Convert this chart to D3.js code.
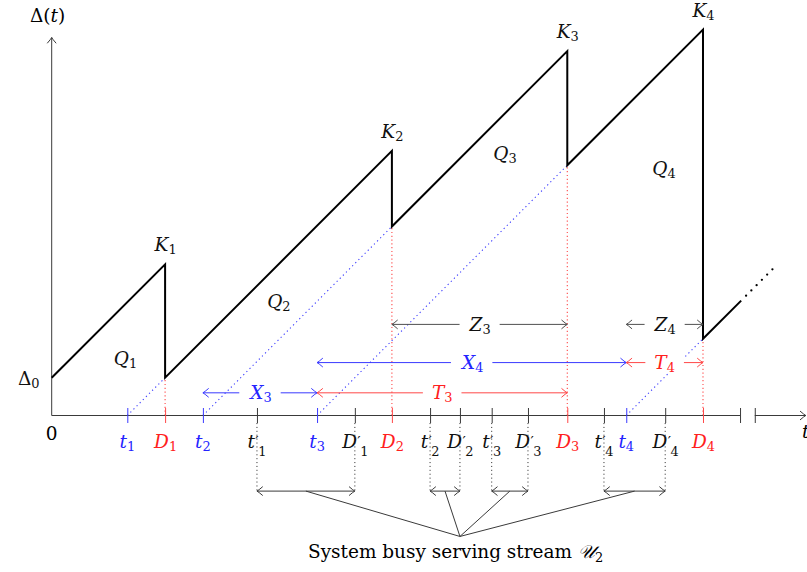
<!DOCTYPE html>
<html>
<head>
<meta charset="utf-8">
<script src="https://cdn.jsdelivr.net/npm/d3@7"></script>
<style>
  html, body { margin: 0; padding: 0; background: #fff; }
  svg { display: block; }
</style>
</head>
<body>
<svg id="chart" width="807" height="572"></svg>
<script>
// ---- Data: update stream U1 and busy periods of stream U2 ----
const initialAge = 1;                            // Δ0
const genTimes = [2, 4, 7.02, 15.2];             // t_i  (generation instants)
const genSubs = ["1", "2", "3", "4"];
const deliveryTimes = [3, 9, 13.64, 17.23];      // D_i  (delivery instants)
const deliverySubs = ["1", "2", "3", "4"];
const busyStart = [5.43, 10.01, 11.64, 14.61];   // t'_i (U2 service starts)
const busyEnd = [8.02, 10.8, 12.6, 16.23];       // D'_i (U2 service ends)
const busySubs = ["1", "2", "3", "4"];
const peakSubs = ["1", "2", "3", "4"];           // K_i
const areaSubs = ["1", "2", "3", "4"];           // Q_i
const solidTail = 18.24;                         // age curve continues after D4 ...
const dottedTail = 19.19;                        // ... then fades out as dots

// interval annotations: letter, subscript, start, end
const intervalNames = ["X", "T", "X", "T", "Z", "Z"];
const intervalSubs = ["3", "3", "4", "4", "3", "4"];
const intervalStart = [genTimes[1], genTimes[2], genTimes[2], genTimes[3], deliveryTimes[1], genTimes[3]];
const intervalEnd = [genTimes[2], deliveryTimes[2], genTimes[3], deliveryTimes[3], deliveryTimes[2], deliveryTimes[3]];

// ---- Layout ----
const U = 37.8;
const origin = { x: 51.7, y: 415.5 };
const xMax = 20, yMax = 10;
const breakAt = [18.21, 18.6];
const intervalLevel = { X: [0.6, 1.4], T: [0.6, 1.4], Z: [2.41, 2.41] };
const busyLevel = -2;
const hub = [10.8, -3.2];
const areaPos = [[1.95, 1.34], [6.01, 2.84], [11.99, 6.76], [16.2, 6.36]];

const BLUE = "#2424ff", BLUE_LINE = "#3a3aff";
const RED = "#ff2020", RED_LINE = "#ff4848";
const INK = "#111", THIN = "#3a3a3a", ZLINE = "#505050";
const FONT = "'DejaVu Serif', serif";
const FS = 18.5;

const svg = d3.select("#chart");
const x = d3.scaleLinear().domain([0, xMax]).range([origin.x, origin.x + xMax * U]);
const y = d3.scaleLinear().domain([0, yMax]).range([origin.y, origin.y - yMax * U]);

// open "to"-style arrow tip pointing along (dx, dy)
function arrowTip(g, px, py, dx, dy, color) {
  const L = 5.5, W = 4.2;
  const bx = px - dx * L, by = py - dy * L;
  const nx = -dy, ny = dx;
  const cx = px - dx * 1.6, cy = py - dy * 1.6;
  g.append("path")
    .attr("d", `M${bx + nx * W},${by + ny * W} Q${cx + nx * 0.8},${cy + ny * 0.8} ${px},${py} Q${cx - nx * 0.8},${cy - ny * 0.8} ${bx - nx * W},${by - ny * W}`)
    .attr("fill", "none").attr("stroke", color).attr("stroke-width", 1)
    .attr("stroke-linecap", "round");
}

// one text element: letter, optional prime, optional subscript
function mathLabel(parent, px, baseline, base, sub, opt = {}) {
  const size = opt.size || FS;
  const color = opt.color || INK;
  const t = parent.append("text").attr("x", 0).attr("y", baseline)
    .attr("font-family", FONT).attr("font-size", size).attr("fill", color);
  t.append("tspan").attr("font-style", opt.upright ? "normal" : "italic").text(base);
  const subDrop = opt.prime ? size * 0.42 : size * 0.17;
  let rise = 0;
  if (opt.prime) {
    rise = -size * 0.08;
    t.append("tspan").attr("dx", 0.3).attr("dy", rise)
      .attr("font-size", size * 0.8).text("′");
  }
  if (sub) {
    t.append("tspan").attr("dx", opt.prime ? -0.5 : 0).attr("dy", subDrop - rise)
      .attr("font-size", size * 0.7).text(sub);
  }
  const bb = t.node().getBBox();
  const anchor = opt.anchor || "middle";
  const left = anchor === "middle" ? px - bb.width / 2 : anchor === "end" ? px - bb.width : px;
  t.attr("x", left - bb.x);
  return bb.width;
}

// ---- Age curve Δ(t) ----
const agePts = [[0, initialAge]];
const peaks = [];
const bases = [];
let base = initialAge, last = 0;
deliveryTimes.forEach((d, i) => {
  const peak = base + (d - last);
  agePts.push([d, peak]);
  peaks.push(peak);
  base = d - genTimes[i];
  agePts.push([d, base]);
  bases.push(base);
  last = d;
});
agePts.push([solidTail, base + (solidTail - last)]);
const line = d3.line().x(d => x(d[0])).y(d => y(d[1]));

// ---- Guide lines (dotted) ----
const guides = svg.append("g");
genTimes.forEach((t, i) => {
  guides.append("path").attr("d", line([[t, 0], [deliveryTimes[i], bases[i]]]))
    .attr("stroke", BLUE_LINE).attr("stroke-width", 1.1).attr("fill", "none")
    .attr("stroke-dasharray", "1.2 3.2");
});
deliveryTimes.forEach((d, i) => {
  guides.append("path").attr("d", line([[d, 0], [d, bases[i]]]))
    .attr("stroke", RED_LINE).attr("stroke-width", 1.1).attr("fill", "none")
    .attr("stroke-dasharray", "1.2 2.6");
});
busyStart.concat(busyEnd).forEach(v => {
  guides.append("line").attr("x1", x(v)).attr("x2", x(v))
    .attr("y1", origin.y + 7.5).attr("y2", y(busyLevel))
    .attr("stroke", THIN).attr("stroke-width", 1).attr("stroke-dasharray", "1.1 2.8");
});

// ---- Axes ----
const axes = svg.append("g").attr("fill", "none");
axes.append("line").attr("x1", x(0)).attr("x2", x(0)).attr("y1", y(0)).attr("y2", y(yMax))
  .attr("stroke", THIN).attr("stroke-width", 1);
arrowTip(axes, x(0), y(yMax), 0, -1, THIN);
axes.append("line").attr("x1", x(0)).attr("x2", x(breakAt[0])).attr("y1", y(0)).attr("y2", y(0))
  .attr("stroke", THIN).attr("stroke-width", 1);
axes.append("line").attr("x1", x(breakAt[1])).attr("x2", x(19.95)).attr("y1", y(0)).attr("y2", y(0))
  .attr("stroke", THIN).attr("stroke-width", 1);
arrowTip(axes, x(19.95), y(0), 1, 0, THIN);

// ticks through the axis, coloured by kind
const tickKinds = [
  ...genTimes.map(v => ({ v, c: BLUE_LINE })),
  ...deliveryTimes.map(v => ({ v, c: RED_LINE })),
  ...busyStart.map(v => ({ v, c: THIN })),
  ...busyEnd.map(v => ({ v, c: THIN })),
  ...breakAt.map(v => ({ v, c: THIN }))
];
const xAxis = d3.axisBottom(x).tickValues(tickKinds.map(d => d.v)).tickFormat("").tickSizeOuter(0).tickSize(7.5);
const axisG = svg.append("g").attr("transform", `translate(0,${origin.y})`).call(xAxis);
axisG.select(".domain").remove();
axisG.selectAll(".tick line")
  .attr("y1", -7.5).attr("y2", 7.5).attr("stroke-width", 1)
  .attr("stroke", (d, i) => tickKinds[i].c);

// ---- Age curve drawn over the guides ----
svg.append("path").attr("d", line(agePts))
  .attr("fill", "none").attr("stroke", "#000").attr("stroke-width", 2)
  .attr("stroke-linejoin", "miter");
svg.append("path").attr("d", line([[solidTail + 0.13, base + (solidTail + 0.13 - last)], [dottedTail, base + (dottedTail - last)]]))
  .attr("fill", "none").attr("stroke", "#000").attr("stroke-width", 2.3)
  .attr("stroke-linecap", "round").attr("stroke-dasharray", "0 7.45");

// ---- Interval arrows ----
const arrows = svg.append("g");
const levelCount = { X: 0, T: 0, Z: 0 };
intervalNames.forEach((n, i) => {
  const lvl = intervalLevel[n][levelCount[n]++];
  const yy = y(lvl);
  const x1 = x(intervalStart[i]), x2 = x(intervalEnd[i]);
  const col = n === "X" ? BLUE_LINE : n === "T" ? RED_LINE : ZLINE;
  const tcol = n === "X" ? BLUE : n === "T" ? RED : INK;
  arrows.append("line").attr("x1", x1).attr("x2", x2).attr("y1", yy).attr("y2", yy)
    .attr("stroke", col).attr("stroke-width", 1);
  arrowTip(arrows, x1, yy, -1, 0, col);
  arrowTip(arrows, x2, yy, 1, 0, col);
  const mid = (x1 + x2) / 2;
  const box = arrows.append("rect").attr("fill", "#fff");
  const w = mathLabel(arrows, mid, yy + 6.5, n, intervalSubs[i], { color: tcol });
  box.attr("x", mid - w / 2 - 9).attr("y", yy - 10).attr("width", w + 18).attr("height", 20);
});

// ---- Busy periods of stream U2 ----
const busy = svg.append("g");
busyStart.forEach((s, i) => {
  const yy = y(busyLevel);
  busy.append("line").attr("x1", x(s)).attr("x2", x(busyEnd[i])).attr("y1", yy).attr("y2", yy)
    .attr("stroke", THIN).attr("stroke-width", 1);
  arrowTip(busy, x(s), yy, -1, 0, THIN);
  arrowTip(busy, x(busyEnd[i]), yy, 1, 0, THIN);
  busy.append("line").attr("x1", x((s + busyEnd[i]) / 2)).attr("y1", yy)
    .attr("x2", x(hub[0])).attr("y2", y(hub[1]))
    .attr("stroke", THIN).attr("stroke-width", 1);
});

// ---- Text ----
const labels = svg.append("g");
// axis titles
const yt = labels.append("text").attr("x", 30).attr("y", 22)
  .attr("font-family", FONT).attr("font-size", FS);
yt.append("tspan").text("Δ(");
yt.append("tspan").attr("font-style", "italic").text("t");
yt.append("tspan").text(")");
labels.append("text").attr("x", 802).attr("y", 438).attr("font-family", FONT).attr("font-size", FS)
  .attr("font-style", "italic").text("t");
labels.append("text").attr("x", x(0)).attr("y", 440).attr("font-family", FONT).attr("font-size", FS)
  .attr("text-anchor", "middle").text("0");
mathLabel(labels, 39.5, 385, "Δ", "0", { upright: true, anchor: "end" });

// tick labels
const tickBase = 448;
genTimes.forEach((v, i) => mathLabel(labels, x(v), tickBase, "t", genSubs[i], { color: BLUE }));
deliveryTimes.forEach((v, i) => mathLabel(labels, x(v), tickBase, "D", deliverySubs[i], { color: RED }));
busyStart.forEach((v, i) => mathLabel(labels, x(v), tickBase, "t", busySubs[i], { prime: true }));
busyEnd.forEach((v, i) => mathLabel(labels, x(v), tickBase, "D", busySubs[i], { prime: true }));

// peaks and areas
peaks.forEach((p, i) => mathLabel(labels, x(deliveryTimes[i]), y(p) - 13, "K", peakSubs[i]));
areaPos.forEach((p, i) => mathLabel(labels, x(p[0]), y(p[1]), "Q", areaSubs[i]));

// caption of the busy-period brace
const cap = labels.append("text").attr("x", 308).attr("y", 558)
  .attr("font-family", FONT).attr("font-size", FS);
cap.append("tspan").attr("textLength", 264).attr("lengthAdjust", "spacingAndGlyphs").text("System busy serving stream");
cap.append("tspan").attr("dx", 6).attr("font-style", "italic").text("𝒰");
cap.append("tspan").attr("dy", 3.5).attr("font-size", FS * 0.7).text("2");
</script>
</body>
</html>
